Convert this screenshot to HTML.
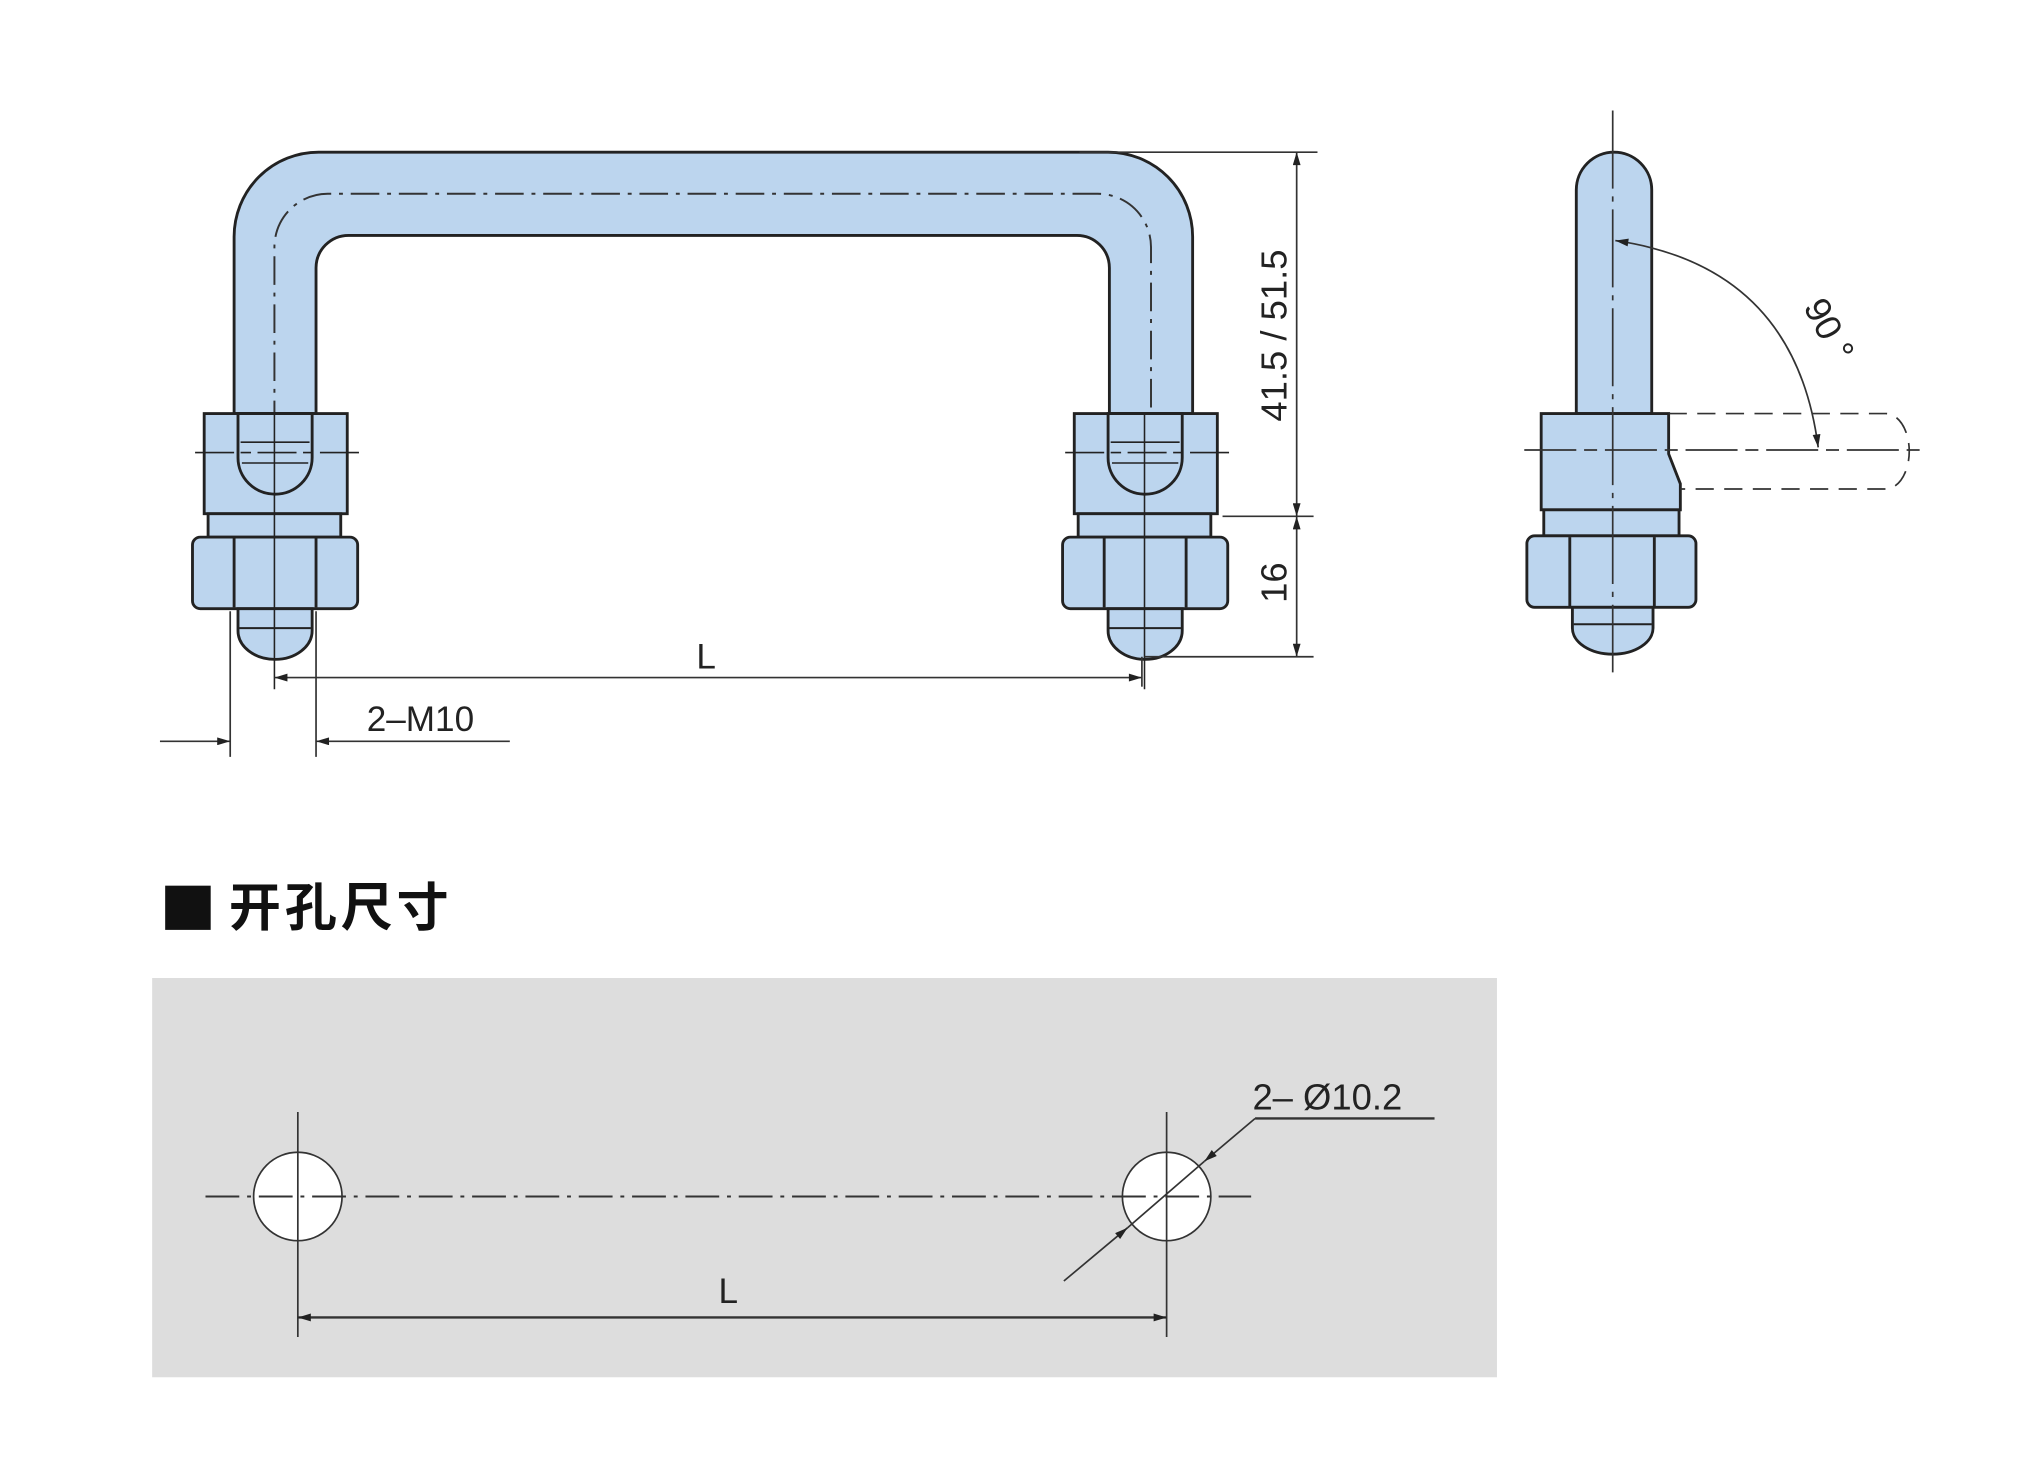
<!DOCTYPE html>
<html><head><meta charset="utf-8"><style>html,body{margin:0;padding:0;background:#fff}svg{display:block}</style></head>
<body>
<svg width="2038" height="1470" viewBox="0 0 1567 1130.3" preserveAspectRatio="none" xmlns="http://www.w3.org/2000/svg" font-family="Liberation Sans, sans-serif">
<defs>
<marker id="a" viewBox="0 0 10 6" refX="10" refY="3" markerWidth="14" markerHeight="6" markerUnits="userSpaceOnUse" orient="auto-start-reverse"><path d="M0,0L10,3L0,6Z" fill="#222"/></marker>
</defs>
<rect width="1567" height="1131" fill="#fff"/>
<g stroke="#222" stroke-width="2.2" fill="#bcd5ee">
<path d="M180,318V182A65,65 0 0 1 245,117H852A65,65 0 0 1 917,182V318H853V206A25,25 0 0 0 828,181H268A25,25 0 0 0 243,206V318Z"/>
</g>
<path d="M211,330V190A41,41 0 0 1 252,149H844A41,41 0 0 1 885,190V330" fill="none" stroke="#333" stroke-width="1.5" stroke-dasharray="22 6 3 6"/>
<g id="foot" stroke="#222" stroke-width="2.2" fill="#bcd5ee">
<rect x="157" y="318" width="110" height="77"/>
<path d="M183,318V352A28.5,28 0 0 0 240,352V318Z"/>
<line x1="185" y1="340" x2="238" y2="340" stroke-width="1.2"/>
<line x1="186" y1="356" x2="237" y2="356" stroke-width="1.2"/>
<rect x="160" y="395" width="102" height="18"/>
<rect x="148" y="413" width="127" height="55" rx="6"/>
<line x1="180" y1="414" x2="180" y2="467"/>
<line x1="243" y1="414" x2="243" y2="467"/>
<path d="M183,468V485A28.5,22 0 0 0 240,485V468Z"/>
<line x1="184" y1="483" x2="239" y2="483" stroke-width="1.5"/>
<line x1="150" y1="348" x2="280" y2="348" stroke-width="1.2" stroke-dasharray="30 5 8 5"/>
<line x1="211" y1="318" x2="211" y2="530" stroke-width="1.2" fill="none"/>
</g>
<use href="#foot" transform="translate(669,0)"/>
<g stroke="#333" stroke-width="1.3" fill="none">
<line x1="830" y1="117" x2="1013" y2="117"/>
<line x1="940" y1="397" x2="1010" y2="397"/>
<line x1="880" y1="505" x2="1010" y2="505"/>
<line x1="997" y1="117" x2="997" y2="397" marker-start="url(#a)" marker-end="url(#a)"/>
<line x1="997" y1="397" x2="997" y2="505" marker-start="url(#a)" marker-end="url(#a)"/>
<line x1="211" y1="521" x2="878" y2="521" marker-start="url(#a)" marker-end="url(#a)"/>
<line x1="878" y1="505" x2="878" y2="528"/>
<line x1="177" y1="470" x2="177" y2="582"/>
<line x1="243" y1="470" x2="243" y2="582"/>
<line x1="123" y1="570" x2="177" y2="570" marker-end="url(#a)"/>
<line x1="392" y1="570" x2="243" y2="570" marker-end="url(#a)"/>
</g>
<text x="543" y="514" font-size="27" text-anchor="middle" fill="#222">L</text>
<text x="282" y="562" font-size="27" fill="#222">2–M10</text>
<text transform="translate(989,258) rotate(-90)" font-size="28" text-anchor="middle" fill="#222">41.5 / 51.5</text>
<text transform="translate(989,448) rotate(-90)" font-size="28" text-anchor="middle" fill="#222">16</text>
<!-- side view -->
<g stroke="#222" stroke-width="2.2" fill="#bcd5ee">
<path d="M1212,318V146A29,29 0 0 1 1270,146V318Z"/>
<path d="M1185,318H1283V349L1292,372V392H1185Z"/>
<rect x="1187" y="392" width="104" height="20"/>
<rect x="1174" y="412" width="130" height="55" rx="6"/>
<line x1="1207" y1="413" x2="1207" y2="466"/>
<line x1="1272" y1="413" x2="1272" y2="466"/>
<path d="M1209,467V483A31,20 0 0 0 1271,483V467Z"/>
<line x1="1210" y1="480" x2="1270" y2="480" stroke-width="1.5"/>
</g>
<g stroke="#333" stroke-width="1.3" fill="none">
<line x1="1240" y1="85" x2="1240" y2="517" stroke-dasharray="60 6 4 6"/>
<line x1="1172" y1="346" x2="1480" y2="346" stroke-dasharray="40 6 10 6"/>
<path d="M1283,318H1450A18,29 0 0 1 1450,376H1292" stroke-dasharray="14 8"/>
<path d="M1242,185Q1380,205 1398,344" marker-start="url(#a)" marker-end="url(#a)"/>
</g>
<text transform="translate(1398,258) rotate(62)" font-size="28" text-anchor="middle" fill="#222">90 °</text>
<!-- bottom -->
<rect x="127" y="681" width="35" height="34" fill="#111"/>
<text x="176" y="712" font-size="40" letter-spacing="3" font-weight="bold" font-family="Liberation Sans, Noto Sans CJK SC, sans-serif" fill="#111">开孔尺寸</text>
<rect x="117" y="752" width="1034" height="307" fill="#dddddd"/>
<g stroke="#333" stroke-width="1.3">
<circle cx="229" cy="920" r="34" fill="#fff"/>
<circle cx="897" cy="920" r="34" fill="#fff"/>
<line x1="158" y1="920" x2="962" y2="920" stroke-dasharray="26 6 3 6" stroke-width="1.6"/>
<line x1="229" y1="855" x2="229" y2="1028"/>
<line x1="897" y1="855" x2="897" y2="1028"/>
<line x1="229" y1="1013" x2="897" y2="1013" marker-start="url(#a)" marker-end="url(#a)" stroke-width="1.8"/>
<line x1="818" y1="985" x2="867" y2="944" marker-end="url(#a)"/>
<line x1="965" y1="860" x2="926" y2="893" marker-end="url(#a)"/>
<line x1="926" y1="893" x2="867" y2="944"/>
<line x1="965" y1="860" x2="1103" y2="860" stroke-width="1.8"/>
</g>
<text x="560" y="1002" font-size="27" text-anchor="middle" fill="#222">L</text>
<text x="963" y="853" font-size="28" fill="#222">2– Ø10.2</text>
</svg>
</body></html>
